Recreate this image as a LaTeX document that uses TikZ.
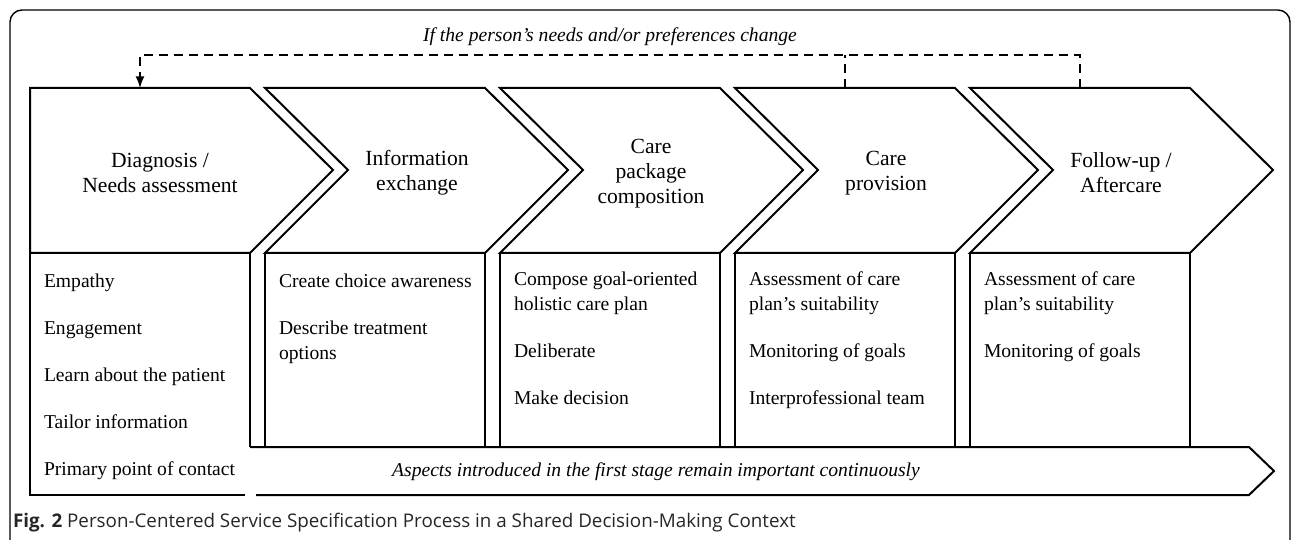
\documentclass[tikz,border=0pt]{standalone}
\usepackage{fontspec}
\setmainfont{Liberation Serif}
\setsansfont{Open Sans}
\usepackage{tikz}
\usetikzlibrary{arrows, positioning}
\newcommand{\txtsize}{\fontsize{10.8}{12.5}\selectfont}
\newcommand{\smallsize}{\fontsize{9.8}{12.5}\selectfont}

\begin{document}
\begin{tikzpicture}[x=0.5pt, y=-0.5pt, line width=1pt,
  stage/.style={align=center, font=\txtsize},
  task/.style={align=left, anchor=north west, inner sep=0pt, font=\smallsize},
  feedback/.style={dashed, dash pattern=on 4.5pt off 3pt}]
\useasboundingbox (0,0) rectangle (1292,540);
\clip (0,0) rectangle (1292,540);
\draw[line width=0.7pt, rounded corners=6pt] (10,550) -- (10,10) -- (1290,10) -- (1290,550);

% stages
\draw (30,88) -- (250,88) -- (333,170) -- (250,253) -- (30,253) -- cycle;
\draw (265,88) -- (485,88) -- (568,170) -- (485,253) -- (265,253) -- (348,170) -- cycle;
\draw (500,88) -- (720,88) -- (803,170) -- (720,253) -- (500,253) -- (583,170) -- cycle;
\draw (735,88) -- (955,88) -- (1038,170) -- (955,253) -- (735,253) -- (818,170) -- cycle;
\draw (970,88) -- (1190,88) -- (1273,170) -- (1190,253) -- (970,253) -- (1053,170) -- cycle;
\node[stage] (D) at (160,173) {Diagnosis /\\Needs assessment};
\node[stage] (I) at (417,173) {Information\\exchange};
\node[stage] (C) at (651,174) {Care\\package\\composition};
\node[stage] (P) at (886,173) {Care\\provision};
\node[stage] (F) at (1121,173) {Follow-up /\\Aftercare};

% boxes below the stages
\draw (250,447) -- (250,253) -- (30,253) -- (30,495) -- (245,495);
\draw (265,253) rectangle (485,447);
\draw (500,253) rectangle (720,447);
\draw (735,253) rectangle (955,447);
\draw (970,253) rectangle (1190,447);
\node[task] (Dt) at (43,273) {Empathy\\[11pt]Engagement\\[11pt]Learn about the patient\\[11pt]Tailor information\\[11pt]Primary point of contact};
\node[task] (It) at (278,273) {Create choice awareness\\[11pt]Describe treatment\\options};
\node[task] (Ct) at (513,271) {Compose goal-oriented\\holistic care plan\\[11pt]Deliberate\\[11pt]Make decision};
\node[task] (Pt) at (748,271) {Assessment of care\\plan's suitability\\[11pt]Monitoring of goals\\[11pt]Interprofessional team};
\node[task] (Ft) at (983,271) {Assessment of care\\plan's suitability\\[11pt]Monitoring of goals};

% continuous arrow
\draw (250,447) -- (1249,447) -- (1274,471) -- (1249,495) -- (256,495);
\node[font=\smallsize\itshape] (A) at (656,472) {Aspects introduced in the first stage remain important continuously};

% feedback loop
\coordinate (Dtop) at (140,88);
\coordinate (Ptop) at (845,88);
\coordinate (Ftop) at (1080,88);
\coordinate (turn) at (1080,55);
\draw[feedback, ->, >=latex] (Ftop) -- (turn) -| (Dtop);
\draw[feedback] (Ptop) -- (Ptop |- turn);
\node[font=\smallsize\itshape] (L) at (610,37) {If the person's needs and/or preferences change};

\node[anchor=base west, inner sep=0pt, font=\sffamily\fontsize{9.4}{11}\selectfont, text=black!85] (cap) at (12,527) {\textbf{Fig. 2} Person-Centered Service Specification Process in a Shared Decision-Making Context};
\end{tikzpicture}
\end{document}
